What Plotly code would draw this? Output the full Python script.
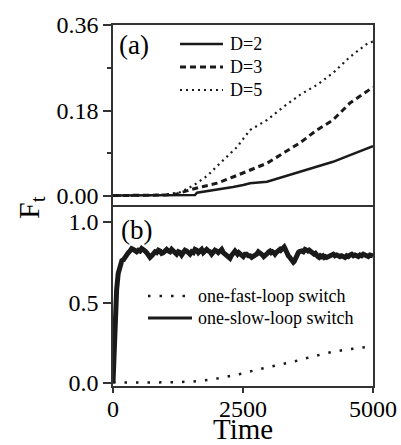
import plotly.graph_objects as go
from plotly.subplots import make_subplots

# ---------------- data ----------------
# panel (a)
d2_t = [0, 500, 1000, 1577, 1615, 1865, 2000, 2308, 2506, 2635, 2962, 3270, 3596, 3923, 4231, 4558, 4962, 5000]
d2_v = [0.001, 0.001, 0.001, 0.002, 0.007, 0.011, 0.013, 0.019, 0.023, 0.027, 0.030, 0.040, 0.051, 0.061, 0.072, 0.086, 0.103, 0.105]

d3_t = [0, 500, 1000, 1224, 1481, 1737, 2000, 2308, 2635, 2962, 3270, 3596, 3923, 4231, 4558, 4962, 5000]
d3_v = [0.001, 0.001, 0.002, 0.004, 0.013, 0.020, 0.027, 0.040, 0.055, 0.069, 0.090, 0.112, 0.139, 0.160, 0.196, 0.227, 0.229]

d5_t = [0, 500, 1000, 1300, 1545, 1700, 1808, 2058, 2385, 2635, 2962, 3270, 3596, 3923, 4231, 4558, 4904, 5000]
d5_v = [0.001, 0.001, 0.003, 0.008, 0.022, 0.034, 0.042, 0.069, 0.103, 0.139, 0.160, 0.187, 0.213, 0.234, 0.259, 0.293, 0.322, 0.325]

# panel (b)
fast_t = [0, 500, 1000, 1500, 1865, 2200, 2500, 2800, 3154, 3500, 3788, 4100, 4423, 4700, 5000]
fast_v = [0.003, 0.003, 0.004, 0.008, 0.02, 0.04, 0.06, 0.085, 0.11, 0.135, 0.16, 0.185, 0.205, 0.215, 0.228]

slow_t = [0, 20, 40, 70, 100, 135, 170, 200, 231, 263, 295, 327, 359, 391, 423, 455, 487, 519, 551, 583,
          615, 647, 680, 712, 744, 776, 808, 840, 872, 904, 936, 968, 1000, 1032, 1064, 1096, 1128, 1160,
          1192, 1224, 1256, 1288, 1320, 1352, 1385, 1417, 1449, 1481, 1513, 1545, 1577, 1609, 1641, 1673,
          1705, 1737, 1769, 1801, 1833, 1865, 1897, 1929, 1961, 1993, 2025, 2058, 2090, 2122, 2154, 2186,
          2218, 2250, 2274, 2298, 2322, 2346, 2370, 2394, 2418, 2442, 2474, 2506, 2538, 2571, 2603, 2635,
          2667, 2699, 2731, 2763, 2795, 2827, 2851, 2875, 2899, 2923, 2947, 2971, 2995, 3019, 3043, 3067,
          3091, 3115, 3139, 3163, 3187, 3212, 3228, 3244, 3260, 3276, 3292, 3308, 3324, 3340, 3356, 3372,
          3388, 3404, 3420, 3436, 3452, 3468, 3484, 3500, 3516, 3532, 3548, 3564, 3580, 3596, 3628, 3660,
          3692, 3724, 3748, 3772, 3796, 3821, 3845, 3869, 3893, 3917, 3941, 3965, 3989, 4013, 4037, 4061,
          4085, 4109, 4141, 4173, 4205, 4237, 4269, 4301, 4333, 4365, 4397, 4429, 4461, 4494, 4526, 4558,
          4590, 4622, 4654, 4686, 4718, 4750, 4782, 4814, 4846, 4878, 4910, 4942, 4971, 5000]
slow_v = [0.0, 0.2, 0.36, 0.58, 0.68, 0.74, 0.76, 0.765, 0.785, 0.795, 0.81, 0.82, 0.835, 0.83, 0.82, 0.815, 0.825, 0.82, 0.835, 0.83,
          0.82, 0.81, 0.795, 0.78, 0.79, 0.80, 0.815, 0.81, 0.825, 0.82, 0.805, 0.81, 0.825, 0.83, 0.82, 0.815, 0.83, 0.82,
          0.805, 0.80, 0.815, 0.81, 0.795, 0.805, 0.825, 0.82, 0.805, 0.80, 0.815, 0.81, 0.83, 0.825, 0.81, 0.82,
          0.83, 0.81, 0.825, 0.83, 0.82, 0.815, 0.80, 0.81, 0.825, 0.82, 0.81, 0.82, 0.83, 0.81, 0.80, 0.80,
          0.79, 0.775, 0.79, 0.80, 0.815, 0.82, 0.81, 0.80, 0.81, 0.80, 0.79, 0.785, 0.80, 0.80, 0.79, 0.79,
          0.78, 0.785, 0.795, 0.80, 0.815, 0.81, 0.80, 0.795, 0.785, 0.79, 0.80, 0.805, 0.815, 0.82, 0.81, 0.815,
          0.81, 0.80, 0.81, 0.82, 0.825, 0.83, 0.825, 0.83, 0.84, 0.835, 0.845, 0.835, 0.82, 0.805, 0.81, 0.79,
          0.785, 0.775, 0.78, 0.765, 0.76, 0.75, 0.755, 0.77, 0.78, 0.79, 0.80, 0.81, 0.815, 0.82, 0.82, 0.815,
          0.83, 0.825, 0.82, 0.825, 0.82, 0.815, 0.81, 0.80, 0.805, 0.79, 0.785, 0.78, 0.79, 0.785, 0.79, 0.78,
          0.785, 0.78, 0.785, 0.79, 0.795, 0.80, 0.79, 0.795, 0.79, 0.785, 0.79, 0.785, 0.78, 0.79, 0.785, 0.795,
          0.80, 0.79, 0.795, 0.79, 0.785, 0.795, 0.79, 0.80, 0.795, 0.79, 0.785, 0.795, 0.79, 0.79]

a_ticks = [0, 0.18, 0.36]
a_minor = [0.09, 0.27]
b_ticks = [0, 0.5, 1.0]
x_ticks = [0, 2500, 5000]

# ---------------- figure ----------------
W, H = 401, 445
ML, MR, MT, MB = 113, 28, 25, 59
PW, PH = W - ML - MR, H - MT - MB
split = (H - MB - 205) / PH

def px(X):
    return (X - ML) / PW

def py(Y):
    return (H - MB - Y) / PH

FONT = "'Liberation Serif', 'Times New Roman', Times, serif"
INK = "#1a1a1a"
AX = "#333333"

fig = make_subplots(rows=2, cols=1, shared_xaxes=False, vertical_spacing=0)

fig.add_trace(go.Scatter(x=d2_t, y=d2_v, mode="lines", line=dict(color=INK, width=2.5), showlegend=False), row=1, col=1)
fig.add_trace(go.Scatter(x=d3_t, y=d3_v, mode="lines", line=dict(color=INK, width=3, dash="6px,4px"), showlegend=False), row=1, col=1)
fig.add_trace(go.Scatter(x=d5_t, y=d5_v, mode="lines", line=dict(color=INK, width=2.2, dash="2px,4px"), showlegend=False), row=1, col=1)

fig.add_trace(go.Scatter(x=fast_t, y=fast_v, mode="lines", line=dict(color=INK, width=2.5, dash="2.5px,9px"), showlegend=False), row=2, col=1)
fig.add_trace(go.Scatter(x=slow_t, y=slow_v, mode="lines", line=dict(color=INK, width=5), showlegend=False), row=2, col=1)

axis_common = dict(showline=True, linecolor=AX, linewidth=1.5, showgrid=False, zeroline=False,
                   tickfont=dict(family=FONT, size=24, color="black"), tickcolor=AX, tickwidth=1.5)

fig.update_layout(
    width=W, height=H, margin=dict(l=ML, r=MR, t=MT, b=MB, autoexpand=False),
    font=dict(family=FONT, color="black"),
    paper_bgcolor="white", plot_bgcolor="white", showlegend=False,
    xaxis=dict(domain=[0, 1], range=[0, 5000], ticks="", showticklabels=False, mirror=True, **axis_common),
    yaxis=dict(domain=[split, 1], range=[-0.36 * 9 / 171, 0.36], tickvals=a_ticks, tickformat=".2f",
               ticks="outside", ticklen=8, mirror=True,
               minor=dict(tickvals=a_minor, ticks="outside", ticklen=4, tickcolor=AX, tickwidth=1.5),
               **axis_common),
    xaxis2=dict(domain=[0, 1], range=[0, 5000], tickvals=x_ticks, ticks="outside", ticklen=0, mirror=False,
                minor=dict(tickvals=x_ticks, ticks="outside", ticklen=5, tickcolor=AX, tickwidth=1.5),
                **axis_common),
    yaxis2=dict(domain=[0, split], range=[-3 / 161, 1 + 17 / 161], tickvals=b_ticks, tickformat=".1f",
                ticks="outside", ticklen=8, mirror=True, **axis_common),
)

ann = []
ann.append(dict(text="Time", x=0.5, y=py(429), xref="paper", yref="paper", showarrow=False,
                xanchor="center", yanchor="middle", font=dict(family=FONT, size=29, color="black")))
ann.append(dict(text="F<sub>t</sub>", x=px(31), y=py(208), xref="paper", yref="paper", showarrow=False,
                textangle=-90, xanchor="center", yanchor="middle", font=dict(family=FONT, size=30, color="black")))
ann.append(dict(text="(a)", x=px(134), y=py(45), xref="paper", yref="paper", showarrow=False,
                xanchor="center", yanchor="middle", font=dict(family=FONT, size=27, color="black")))
ann.append(dict(text="(b)", x=px(136), y=py(230), xref="paper", yref="paper", showarrow=False,
                xanchor="center", yanchor="middle", font=dict(family=FONT, size=27, color="black")))

shapes = []
leg_a = [("D=2", "solid", 2.5), ("D=3", "6px,4px", 3), ("D=5", "2px,4px", 2.2)]
for i, (lab, dash, w) in enumerate(leg_a):
    Y = 44 + 23 * i
    shapes.append(dict(type="line", xref="paper", yref="paper", x0=px(180), x1=px(223), y0=py(Y), y1=py(Y),
                       line=dict(color=INK, width=w, dash=dash)))
    ann.append(dict(text=lab, x=px(228), y=py(Y), xref="paper", yref="paper", showarrow=False,
                    xanchor="left", yanchor="middle", font=dict(family=FONT, size=18, color="black")))

leg_b = [("one-fast-loop switch", "2.5px,9px", 2.5), ("one-slow-loop switch", "solid", 3)]
for i, (lab, dash, w) in enumerate(leg_b):
    Y = 296 + 22 * i
    shapes.append(dict(type="line", xref="paper", yref="paper", x0=px(148), x1=px(192), y0=py(Y), y1=py(Y),
                       line=dict(color=INK, width=w, dash=dash)))
    ann.append(dict(text=lab, x=px(196), y=py(Y), xref="paper", yref="paper", showarrow=False,
                    xanchor="left", yanchor="middle", font=dict(family=FONT, size=18, color="black")))

fig.update_layout(annotations=ann, shapes=shapes)
fig.write_html("out.html", config={"displayModeBar": False},
               post_script="document.body.style.margin='0';document.body.style.overflow='hidden';")
